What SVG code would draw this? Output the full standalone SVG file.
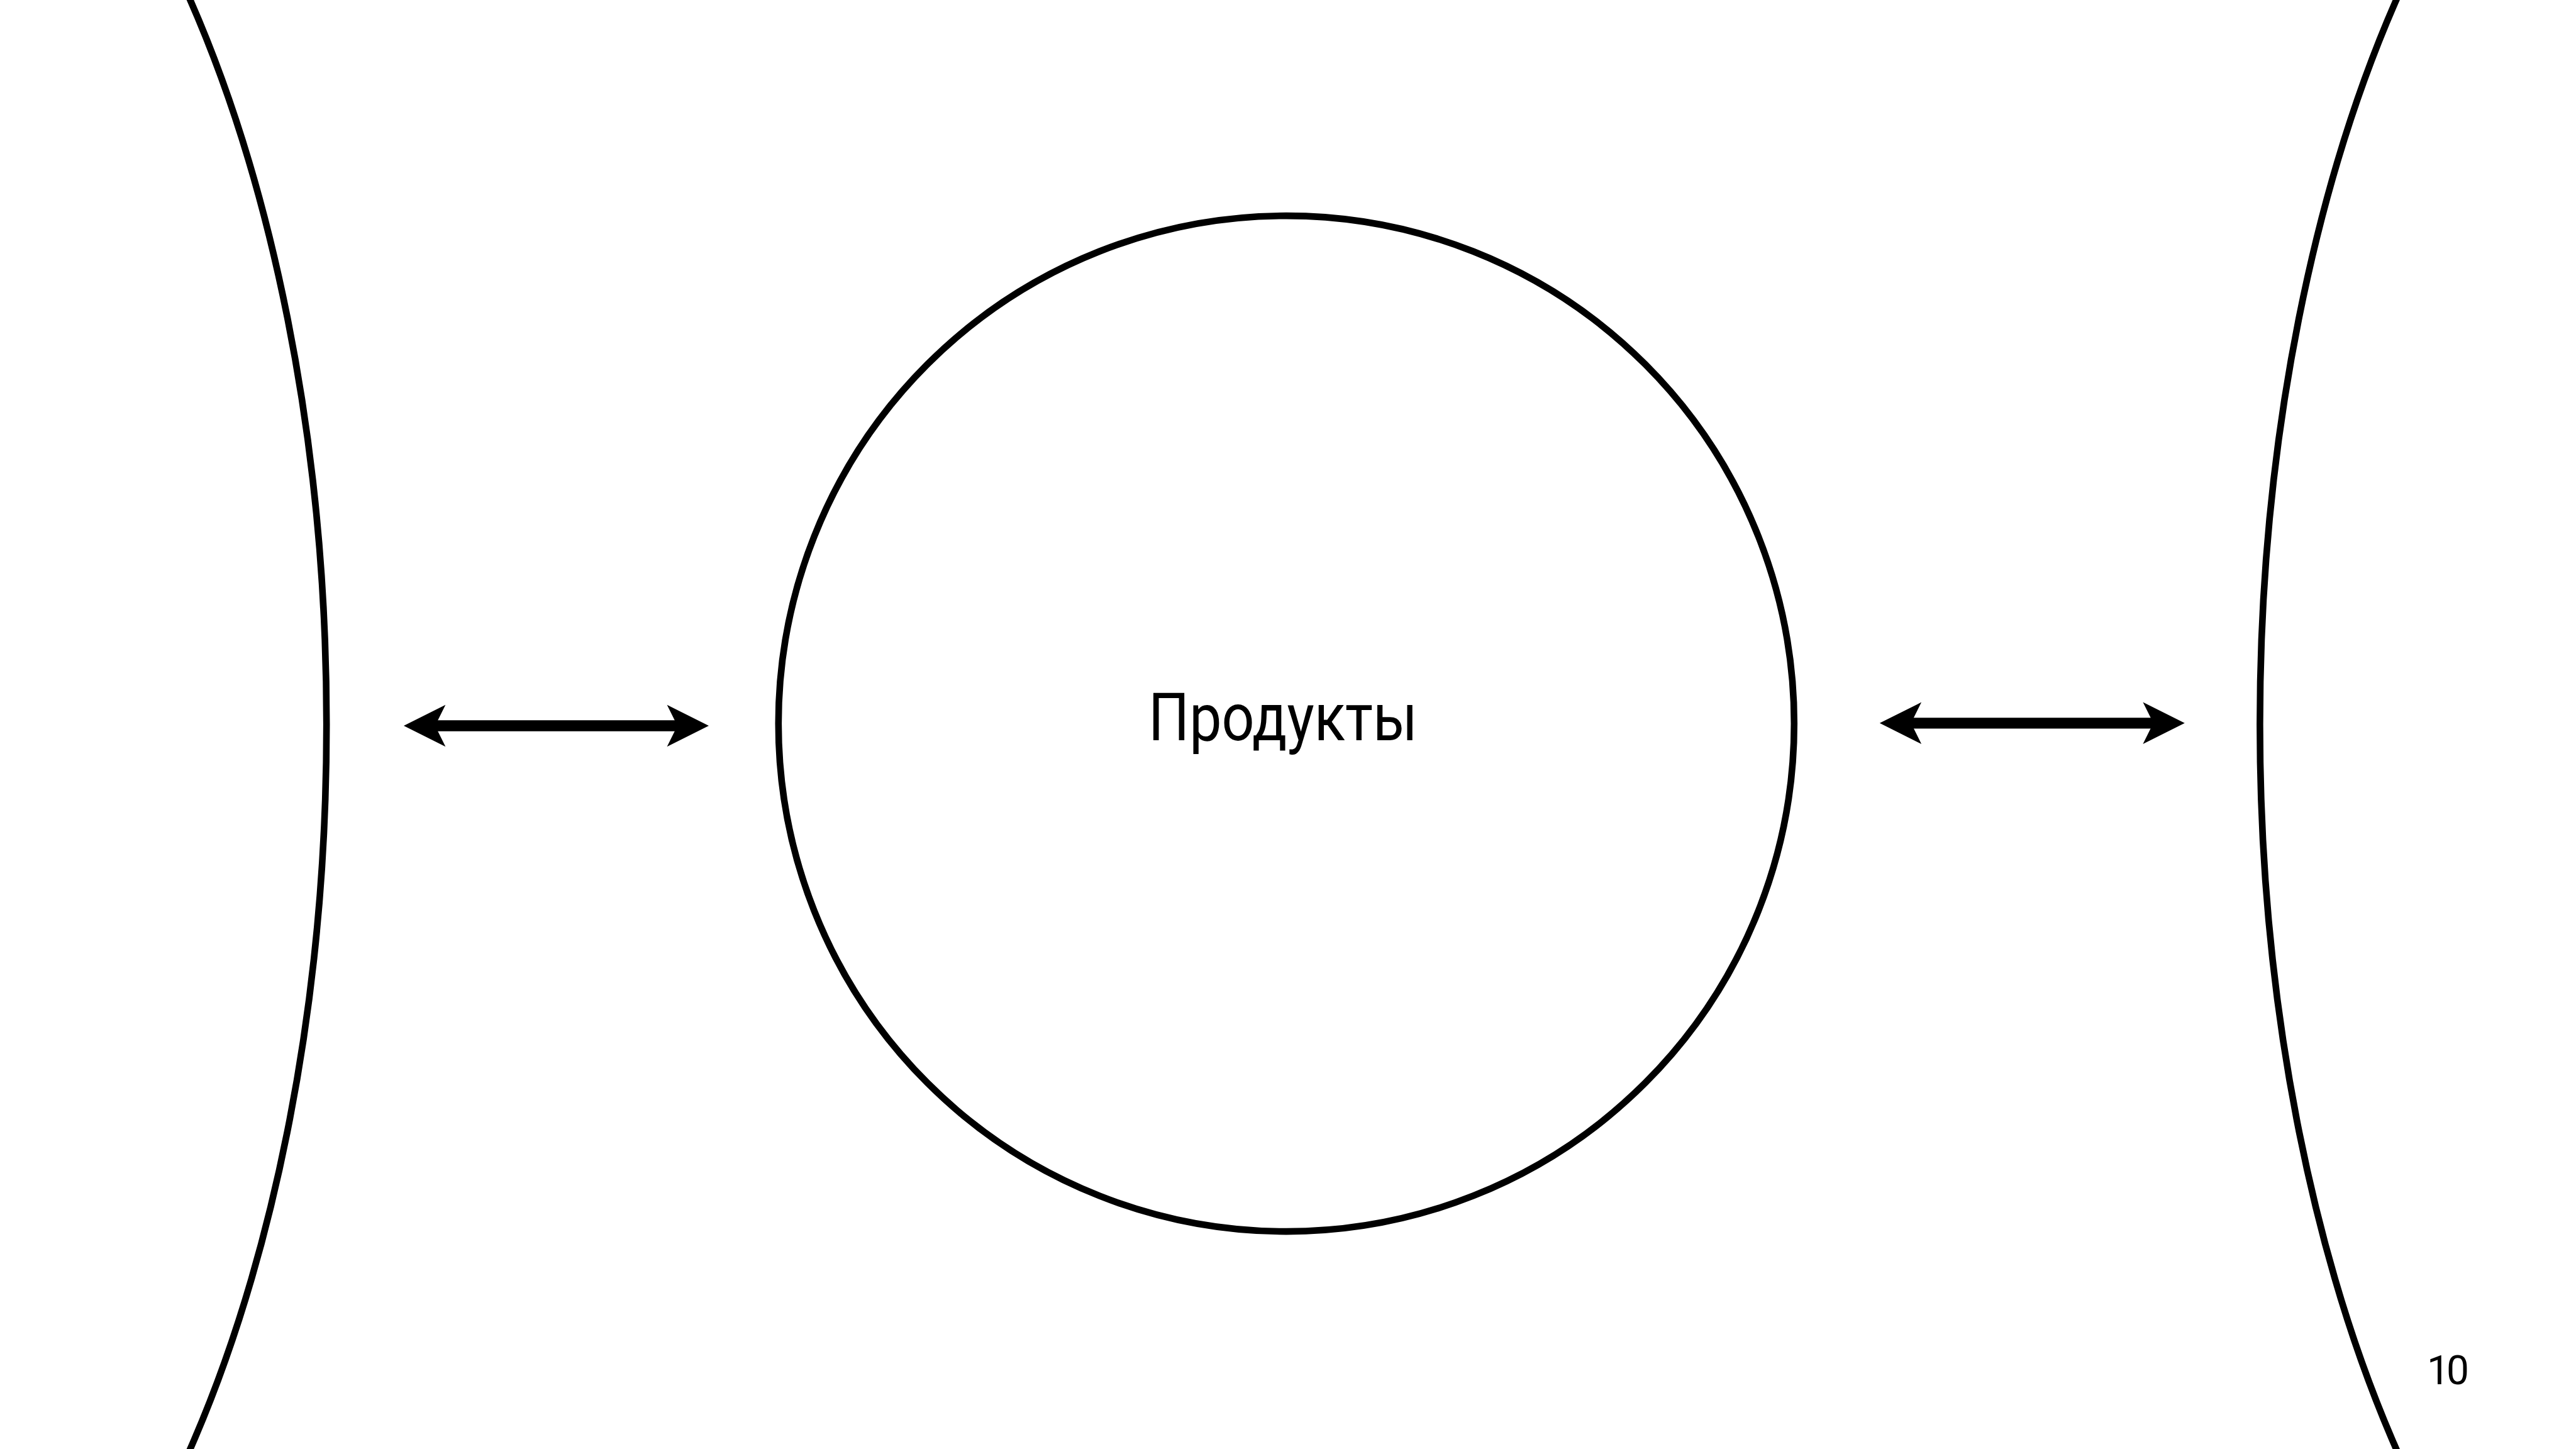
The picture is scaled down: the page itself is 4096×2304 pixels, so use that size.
<svg xmlns="http://www.w3.org/2000/svg" width="4096" height="2304" viewBox="0 0 4096 2304">
  <style>
    .outline { fill: none; stroke: #000; stroke-width: 10.6; }
    .shaft { fill: none; stroke: #000; stroke-width: 17.3; stroke-linecap: butt; }
    .label { font-family: Roboto, "Liberation Sans", Arial, sans-serif; fill: #000; }
  </style>
  <defs>
    <!-- notched arrowhead; tip sits 40px beyond the line end so the shaft stays hidden -->
    <marker id="head" markerUnits="userSpaceOnUse" viewBox="-30 -36 75 72" refX="0" refY="0" markerWidth="75" markerHeight="72" orient="auto-start-reverse" overflow="visible">
      <path d="M40,0 L-26.4,-33.2 L-9.9,0 L-26.4,33.2 Z" fill="#000"/>
    </marker>
  </defs>

  <rect width="4096" height="2304" fill="#fff"/>

  <!-- large surrounding shapes cut by the page edges -->
  <g id="left-field">
    <ellipse class="outline" cx="-369.6" cy="1152" rx="888.8" ry="1760"/>
  </g>
  <g id="right-field">
    <ellipse class="outline" cx="4482.2" cy="1152" rx="888.8" ry="1760"/>
  </g>

  <!-- central node -->
  <g id="products">
    <circle class="outline" cx="2045.3" cy="1150.6" r="807.5"/>
    <text class="label" x="2040" y="1177.4" font-size="105" text-anchor="middle" textLength="428" lengthAdjust="spacingAndGlyphs">Продукты</text>
  </g>

  <!-- two-way connectors -->
  <g id="connectors">
    <line class="shaft" x1="682" y1="1154" x2="1087" y2="1154" marker-start="url(#head)" marker-end="url(#head)"/>
    <line class="shaft" x1="3028.8" y1="1149.8" x2="3433.8" y2="1149.8" marker-start="url(#head)" marker-end="url(#head)"/>
  </g>

  <g id="page-number">
    <text class="label" x="3890" y="2201.4" font-size="64" text-anchor="middle" letter-spacing="-5">10</text>
  </g>
</svg>
